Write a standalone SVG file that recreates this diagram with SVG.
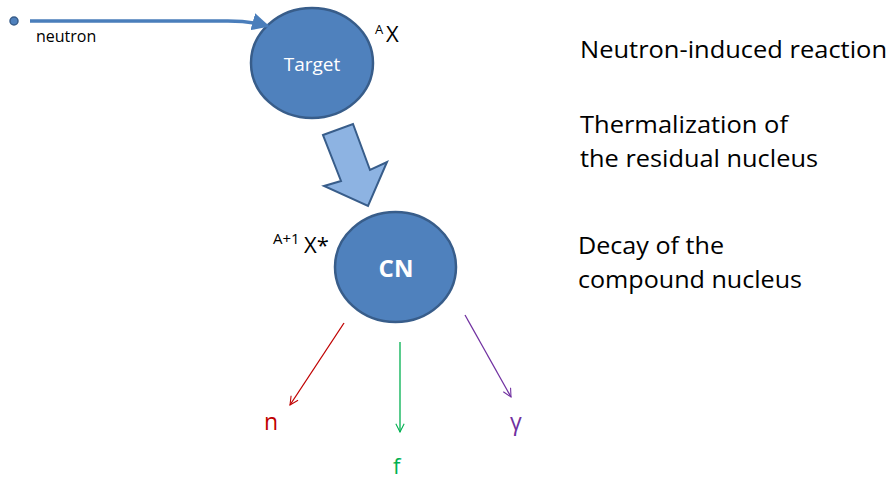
<svg xmlns="http://www.w3.org/2000/svg" width="890" height="481" viewBox="0 0 890 481">
<style>
text{font-family:"Open Sans","Liberation Sans",Arial,sans-serif}
.node{fill:#4F81BD;stroke:#385D8A;stroke-width:2.5}
.lbl{fill:#fff;text-anchor:middle}
.side{font-size:23px;fill:#000}
.thin{fill:none;stroke-width:1.3}
</style>
<defs>
<marker id="mb" viewBox="0 0 10 10" refX="9" refY="5" markerWidth="5" markerHeight="5" orient="auto" markerUnits="strokeWidth"><path d="M0,0 L10,5 L0,10 z" fill="#4A7EBB"/></marker>
<marker id="mr" viewBox="0 0 12 12" refX="11" refY="6" markerWidth="10" markerHeight="10" orient="auto" markerUnits="userSpaceOnUse"><path d="M1,1 L11,6 L1,11" fill="none" stroke="#C00000" stroke-width="1.3"/></marker>
<marker id="mg" viewBox="0 0 12 12" refX="11" refY="6" markerWidth="10" markerHeight="10" orient="auto" markerUnits="userSpaceOnUse"><path d="M1,1 L11,6 L1,11" fill="none" stroke="#00B050" stroke-width="1.3"/></marker>
<marker id="mp" viewBox="0 0 12 12" refX="11" refY="6" markerWidth="10" markerHeight="10" orient="auto" markerUnits="userSpaceOnUse"><path d="M1,1 L11,6 L1,11" fill="none" stroke="#7030A0" stroke-width="1.3"/></marker>
</defs>
<g id="neutron">
<circle cx="14" cy="21" r="4" fill="#4F81BD" stroke="#385D8A" stroke-width="1.5"/>
<text x="36" y="42" font-size="16">neutron</text>
</g>
<g id="target">
<ellipse class="node" cx="312" cy="63" rx="61" ry="55"/>
<text class="lbl" x="312" y="71" font-size="19">Target</text>
<text x="375" y="34" font-size="13">A</text>
<text x="386" y="42" font-size="22">X</text>
</g>
<g id="cn">
<ellipse class="node" cx="395.5" cy="267" rx="60.5" ry="55"/>
<text class="lbl" x="396" y="277" font-size="24" font-weight="bold">CN</text>
<text x="273" y="244" font-size="15">A+1</text>
<text x="304" y="253" font-size="22">X*</text>
</g>
<g id="labels">
<text class="side" x="580" y="58" textLength="307" lengthAdjust="spacingAndGlyphs">Neutron-induced reaction</text>
<text class="side" x="580" y="133" textLength="208" lengthAdjust="spacingAndGlyphs">Thermalization of</text>
<text class="side" x="580" y="167" textLength="238" lengthAdjust="spacingAndGlyphs">the residual nucleus</text>
<text class="side" x="578" y="254" textLength="146" lengthAdjust="spacingAndGlyphs">Decay of the</text>
<text class="side" x="578" y="288" textLength="224" lengthAdjust="spacingAndGlyphs">compound nucleus</text>
<text x="264" y="430" font-size="23" fill="#C00000">n</text>
<text x="393" y="474" font-size="22" fill="#00B050">f</text>
<text x="510" y="430" font-size="23" fill="#7030A0">γ</text>
</g>
<g id="connectors">
<path d="M30,21 L228,21 Q250,21 268,26" fill="none" stroke="#4A7EBB" stroke-width="3.5" marker-end="url(#mb)"/>
<polygon points="323,135 353,124 370,170 387,162 368,206 324,186 341,181" fill="#8DB3E2" stroke="#385D8A" stroke-width="2"/>
<line class="thin" x1="344" y1="323" x2="290" y2="405" stroke="#C00000" marker-end="url(#mr)"/>
<line class="thin" x1="400" y1="342" x2="400" y2="432" stroke="#00B050" marker-end="url(#mg)"/>
<line class="thin" x1="465" y1="315" x2="511" y2="397" stroke="#7030A0" marker-end="url(#mp)"/>
</g>
</svg>
